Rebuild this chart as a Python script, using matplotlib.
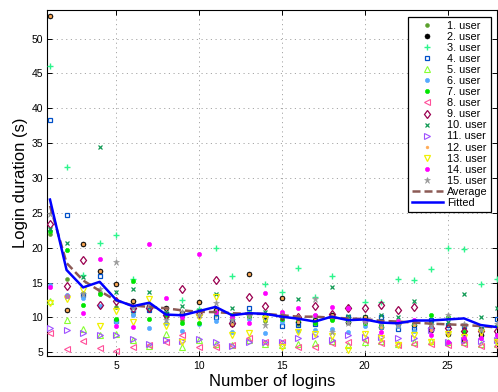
import matplotlib
matplotlib.use("Agg")
import matplotlib.pyplot as plt

plt.rcParams["font.family"] = ["Liberation Sans", "DejaVu Sans"]

logins = list(range(1, 29))

# login duration (s) per user, one value per login number
user_01 = [22.0, 15.5, 13.5, 13.5, 11.5, 10.5, 11.2, 10.0, 9.6, 10.2, 10.5, 9.8, 10.0, 9.5,
           9.6, 9.0, 9.3, 9.8, 9.6, 9.4, 9.0, 8.8, 9.0, 9.0, 9.0, 8.5, 8.0, 8.7]
user_02 = [53.2, 11.1, 20.5, 16.7, 14.8, 12.4, 11.7, 11.4, 10.6, 12.2, 11.0, 9.0, 16.2, 10.2,
           12.8, 9.4, 9.6, 10.4, 9.3, 10.0, 8.6, 9.0, 8.9, 8.2, 7.6, 6.8, 7.5, 6.8]
user_03 = [46.0, 31.5, 16.1, 20.6, 21.8, 15.5, 11.5, 10.8, 12.5, 11.2, 19.9, 16.0, 10.6, 14.8,
           13.7, 17.1, 12.9, 15.9, 11.5, 12.2, 12.2, 15.5, 15.4, 16.9, 19.9, 19.8, 14.8, 15.5]
user_04 = [38.3, 24.7, 13.2, 16.0, 9.5, 11.0, 11.0, 10.5, 10.3, 10.6, 10.0, 9.4, 11.4, 10.0,
           8.7, 8.9, 9.1, 10.0, 10.1, 9.6, 10.0, 8.4, 8.4, 9.6, 8.9, 8.7, 8.3, 9.8]
user_05 = [12.3, 9.6, 8.4, 7.5, 7.6, 6.8, 5.9, 7.6, 5.8, 6.8, 6.2, 6.0, 6.8, 6.2,
           6.0, 6.2, 6.3, 6.6, 6.0, 6.5, 6.6, 6.2, 6.4, 6.6, 6.4, 6.5, 6.2, 6.2]
user_06 = [14.6, 13.2, 12.8, 11.6, 9.4, 10.4, 8.5, 9.2, 8.1, 9.0, 9.5, 7.9, 9.7, 7.8,
           9.4, 8.0, 8.2, 8.3, 7.9, 8.8, 8.6, 8.8, 8.0, 8.4, 8.0, 7.6, 7.0, 7.5]
user_07 = [22.4, 19.6, 11.8, 13.3, 9.8, 15.2, 9.8, 10.2, 9.2, 9.2, 10.8, 10.3, 10.2, 10.4,
           9.8, 9.6, 9.2, 9.6, 9.5, 9.2, 8.8, 9.2, 9.1, 10.4, 10.1, 7.9, 8.3, 8.7]
user_08 = [7.8, 5.5, 6.6, 5.6, 5.2, 5.7, 6.0, 6.4, 7.5, 5.7, 5.8, 6.0, 7.1, 6.4,
           6.4, 5.8, 5.8, 6.3, 6.4, 6.8, 6.3, 6.1, 6.2, 6.2, 6.0, 6.2, 5.9, 5.9]
user_09 = [23.4, 14.5, 18.2, 11.8, 12.3, 11.4, 11.3, 10.4, 14.1, 10.5, 15.3, 9.2, 12.9, 11.6,
           10.2, 10.1, 11.6, 10.5, 11.3, 11.3, 11.8, 11.0, 11.5, 8.5, 8.5, 8.0, 8.0, 8.0]
user_10 = [22.7, 20.7, 15.8, 34.4, 13.7, 14.0, 13.6, 10.6, 11.7, 11.0, 13.4, 11.4, 10.6, 10.7,
           10.4, 12.6, 10.2, 14.3, 10.2, 10.1, 10.4, 10.1, 12.4, 9.3, 9.3, 13.3, 10.0, 11.3]
user_11 = [8.5, 8.2, 7.7, 7.4, 7.5, 6.9, 6.2, 6.7, 6.6, 6.9, 6.5, 5.9, 6.5, 6.5,
           6.5, 7.0, 7.3, 6.8, 7.5, 7.2, 7.2, 7.0, 7.0, 8.2, 6.4, 6.8, 6.6, 6.8]
user_12 = [53.2, 11.1, 20.5, 16.7, 14.8, 12.4, 11.7, 11.4, 10.6, 12.2, 11.0, 9.0, 16.2, 10.2,
           12.8, 9.4, 9.6, 10.4, 9.3, 10.0, 8.6, 9.0, 8.9, 8.2, 7.6, 6.8, 7.5, 6.8]
user_13 = [12.0, 12.6, 13.9, 8.8, 10.9, 9.3, 12.6, 8.7, 6.4, 10.0, 12.9, 7.4, 7.8, 9.8,
           5.7, 7.9, 7.6, 7.3, 5.3, 7.6, 7.0, 6.1, 7.5, 6.5, 7.6, 7.2, 7.9, 6.5]
user_14 = [14.3, 13.0, 10.6, 18.4, 8.7, 8.6, 20.5, 12.8, 10.0, 19.1, 10.8, 10.0, 9.2, 13.5,
           10.7, 11.3, 10.4, 11.5, 11.4, 9.5, 7.9, 9.5, 9.6, 7.5, 6.4, 7.0, 7.0, 7.5]
user_15 = [24.8, 13.0, 13.3, 14.1, 17.9, 11.4, 11.8, 9.6, 10.8, 10.4, 12.0, 9.6, 10.2, 8.9,
           10.3, 10.1, 12.6, 7.9, 9.2, 9.3, 9.1, 8.9, 9.3, 8.9, 10.4, 9.0, 8.2, 9.0]

average = [26.0, 17.8, 15.3, 13.8, 12.4, 11.7, 11.5, 11.3, 11.0, 10.8, 10.75, 10.6, 10.5, 10.5,
           10.3, 10.1, 10.1, 9.95, 9.85, 9.75, 9.5, 9.4, 9.25, 9.1, 9.0, 8.9, 8.75, 8.55]
fitted = [26.9, 16.8, 14.3, 15.1, 12.5, 11.6, 12.1, 10.4, 10.3, 10.9, 11.5, 10.3, 10.6, 10.5,
          10.1, 9.8, 9.4, 10.1, 9.6, 9.7, 9.25, 9.15, 9.55, 9.55, 9.7, 9.85, 8.9, 8.6]

users = [user_01, user_02, user_03, user_04, user_05, user_06, user_07, user_08,
         user_09, user_10, user_11, user_12, user_13, user_14, user_15]

# (marker, colour, size, filled, edge width)
styles = [
    ("o", "#5aa02c", 2.8, True, 0.4),
    ("o", "#000000", 3.6, True, 0.4),
    ("+", "#2cf58c", 4.6, True, 1.0),
    ("s", "#0050c8", 3.3, False, 0.9),
    ("^", "#88ff33", 4.3, False, 0.8),
    ("o", "#55aaff", 3.1, True, 0.4),
    ("o", "#00e600", 3.1, True, 0.4),
    ("<", "#ff4f9a", 4.3, False, 0.8),
    ("d", "#9a0050", 4.3, False, 0.9),
    ("x", "#129a55", 2.8, True, 0.9),
    (">", "#a050ff", 4.3, False, 0.8),
    ("o", "#ffaa55", 2.1, True, 0.3),
    ("v", "#f0f000", 4.3, False, 0.9),
    ("o", "#ff00ff", 3.1, True, 0.4),
    ("*", "#999999", 5.0, True, 0.4),
]

fig = plt.figure(figsize=(4.98, 3.92), dpi=100)
ax = fig.add_axes([0.0944, 0.0926, 0.904, 0.882])

for i, (vals, (mk, col, ms, filled, mew)) in enumerate(zip(users, styles)):
    ax.plot(logins, vals, linestyle="none", marker=mk, markersize=ms,
            markeredgecolor=col, markerfacecolor=col if filled else "none",
            markeredgewidth=mew, label=f"{i + 1}. user", zorder=3)

ax.plot(logins, average, color="#8c5a55", linewidth=1.8, dashes=(3.2, 1.6),
        label="Average", zorder=4)
ax.plot(logins, fitted, color="#0000ff", linewidth=1.8, label="Fitted", zorder=5)

ax.set_xlim(0.82, 28.0)
ax.set_ylim(4.5, 54.1)
ax.set_xticks([5, 10, 15, 20, 25])
ax.set_yticks(range(5, 55, 5))

ax.grid(True, color="#999999", linewidth=0.6, linestyle=(0, (1.4, 4.2)))
ax.set_axisbelow(True)
ax.tick_params(direction="in", top=True, right=True, length=3.5, width=0.7,
               labelsize=7.5, pad=3, colors="#000000")
ax.tick_params(axis="x", pad=4)
for spine in ax.spines.values():
    spine.set_linewidth(0.8)

ax.set_xlabel("Number of logins", fontsize=12, labelpad=2)
ax.set_ylabel("Login duration (s)", fontsize=12, labelpad=2)

leg = ax.legend(loc="upper right", bbox_to_anchor=(0.987, 0.98), fontsize=7.8,
                numpoints=1, labelspacing=0.1, handlelength=2.8, handletextpad=0.4,
                borderpad=0.35, borderaxespad=0, fancybox=False, framealpha=1)
leg.get_frame().set_edgecolor("#000000")
leg.get_frame().set_linewidth(0.9)

fig.savefig("out.png", dpi=100)
